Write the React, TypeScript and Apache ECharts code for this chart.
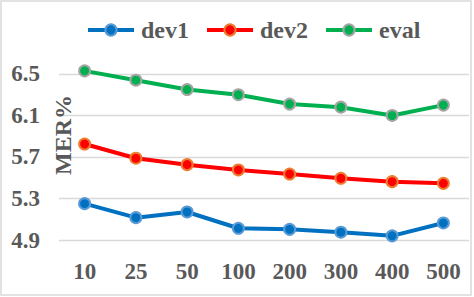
import React, { useEffect, useRef } from "react";
import * as echarts from "echarts";

const categories = ["10", "25", "50", "100", "200", "300", "400", "500"];
const dev1 = [5.25, 5.115, 5.17, 5.013, 5.003, 4.975, 4.94, 5.064];
const dev2 = [5.825, 5.688, 5.626, 5.575, 5.536, 5.495, 5.462, 5.446];
const evalData = [6.53, 6.44, 6.35, 6.3, 6.21, 6.18, 6.1, 6.2];
const yTicks = [4.9, 5.3, 5.7, 6.1, 6.5];

const FONT = "'Liberation Serif', 'Times New Roman', serif";
const TEXT = "#595959";

export default function App() {
  const ref = useRef<HTMLDivElement>(null);
  useEffect(() => {
    if (!ref.current) return;
    const chart = echarts.init(ref.current, undefined, { renderer: "svg" });
    const mk = (name: string, data: number[], color: string, border: string) => ({
      name,
      type: "line",
      data,
      symbol: "circle",
      symbolSize: 11,
      lineStyle: { color, width: 4 },
      itemStyle: { color, borderColor: border, borderWidth: 2 },
      z: 3,
    });
    chart.setOption({
      animation: false,
      backgroundColor: "#ffffff",
      legend: {
        left: 81,
        top: 13,
        itemWidth: 46,
        itemHeight: 14,
        itemGap: 16,
        lineStyle: { width: 4 },
        textStyle: { fontFamily: FONT, fontWeight: "bold", fontSize: 24, color: TEXT, padding: [0, 0, 0, 2] },
      },
      grid: { left: 59, right: 5, top: 63.6, bottom: 57, containLabel: false },
      xAxis: {
        type: "category",
        data: categories,
        boundaryGap: true,
        axisLine: { show: false },
        axisTick: { show: false },
        axisLabel: { fontFamily: FONT, fontWeight: "bold", fontSize: 23, color: TEXT, margin: 20 },
      },
      yAxis: {
        type: "value",
        min: 4.9,
        max: 6.6,
        axisLine: { show: false },
        axisTick: { show: false, customValues: yTicks },
        axisLabel: {
          customValues: yTicks,
          fontFamily: FONT,
          fontWeight: "bold",
          fontSize: 23,
          color: TEXT,
          margin: 19,
          formatter: (v: number) => v.toFixed(1),
        },
        splitLine: { show: true, lineStyle: { color: "#d9d9d9", width: 1.3 } },
      },
      graphic: [
        {
          type: "rect",
          shape: { x: 1, y: 1, width: 470, height: 294 },
          style: { fill: "none", stroke: "#d9d9d9", lineWidth: 1.5 },
          silent: true,
        },
        {
          type: "text",
          x: 63,
          y: 135,
          rotation: Math.PI / 2,
          style: {
            text: "MER%",
            fontFamily: FONT,
            fontWeight: "bold",
            fontSize: 24,
            fill: TEXT,
            align: "center",
            verticalAlign: "middle",
          },
          z: 10,
        },
      ],
      series: [
        mk("dev1", dev1, "#0070C0", "#5B9BD5"),
        mk("dev2", dev2, "#FF0000", "#ED7D31"),
        mk("eval", evalData, "#00B050", "#A5A5A5"),
      ],
    });
    return () => chart.dispose();
  }, []);
  return (
    <div
      ref={ref}
      style={{ position: "fixed", left: 0, top: 0, width: 474, height: 297 }}
    />
  );
}
